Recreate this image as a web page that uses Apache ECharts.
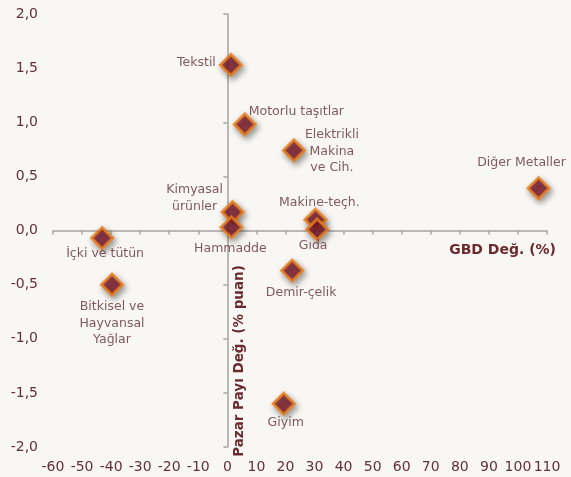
<!DOCTYPE html>
<html>
<head>
<meta charset="utf-8">
<script src="https://cdn.jsdelivr.net/npm/echarts@6/dist/echarts.min.js"></script>
<style>
  html, body { margin: 0; padding: 0; background: #f8f7f3; }
  #chart { width: 571px; height: 477px; }
</style>
</head>
<body>
<div id="chart"></div>
<script>
// Sectors: change in export value (%) vs change in market share (% points)
const sectors = [
  'Tekstil', 'Motorlu taşıtlar', 'Elektrikli\nMakina\nve Cih.', 'Diğer Metaller',
  'Kimyasal\nürünler', 'Hammadde', 'Makine-teçh.', 'Gıda',
  'İçki ve tütün', 'Bitkisel ve\nHayvansal\nYağlar', 'Demir-çelik', 'Giyim'
];
const valueChange = [1.2, 6.0, 22.9, 107.1, 1.8, 1.4, 30.3, 30.9, -43.1, -39.7, 22.3, 19.4];
const shareChange = [1.53, 0.98, 0.74, 0.39, 0.17, 0.03, 0.10, 0.01, -0.07, -0.50, -0.37, -1.60];

const xTicks = { min: -60, max: 110, step: 10 };
const yTicks = { min: -2, max: 2, step: 0.5 };

// Where each sector's label sits relative to its marker
const labelPlacement = {
  'Tekstil': { offset: [-15, -2], align: 'right' },
  'Motorlu taşıtlar': { offset: [4, -13], align: 'left' },
  'Elektrikli\nMakina\nve Cih.': { offset: [38, 1], align: 'center' },
  'Diğer Metaller': { offset: [-17, -26], align: 'center' },
  'Kimyasal\nürünler': { offset: [-38, -14], align: 'center' },
  'Hammadde': { offset: [-1, 21], align: 'center' },
  'Makine-teçh.': { offset: [4, -17], align: 'center' },
  'Gıda': { offset: [-4, 16], align: 'center' },
  'İçki ve tütün': { offset: [3, 16], align: 'center' },
  'Bitkisel ve\nHayvansal\nYağlar': { offset: [0, 39], align: 'center' },
  'Demir-çelik': { offset: [9, 22], align: 'center' },
  'Giyim': { offset: [2, 19], align: 'center' }
};

const FONT = 'DejaVu Sans';
const TEXT = '#633036';
const AXIS = '#a5a5a5';

const points = sectors.map((name, i) => {
  const p = labelPlacement[name];
  return {
    name,
    value: [valueChange[i], shareChange[i]],
    label: {
      show: true,
      position: 'inside',
      offset: p.offset,
      align: p.align,
      verticalAlign: 'middle',
      formatter: '{b}'
    }
  };
});

const chart = echarts.init(document.getElementById('chart'), null, { renderer: 'canvas' });

chart.setOption({
  backgroundColor: '#f8f7f3',
  animation: false,
  grid: { left: 53, right: 24, top: 14, bottom: 30, outerBoundsMode: 'none' },
  xAxis: [
    {
      type: 'value', min: xTicks.min, max: xTicks.max, interval: xTicks.step,
      position: 'bottom',
      axisLine: { show: false, onZero: false },
      axisTick: { show: false },
      splitLine: { show: false },
      axisLabel: { color: TEXT, fontFamily: FONT, fontSize: 14, margin: 13 }
    },
    {
      type: 'value', min: xTicks.min, max: xTicks.max, interval: xTicks.step,
      position: 'top',
      axisLine: { show: true, onZero: true, onZeroAxisIndex: 1, lineStyle: { color: AXIS, width: 1.5 } },
      axisTick: { show: true, inside: true, length: 4, lineStyle: { color: AXIS, width: 1.5 } },
      axisLabel: { show: false },
      splitLine: { show: false }
    }
  ],
  yAxis: [
    {
      type: 'value', min: yTicks.min, max: yTicks.max, interval: yTicks.step,
      position: 'left',
      axisLine: { show: false, onZero: false },
      axisTick: { show: false },
      splitLine: { show: false },
      axisLabel: {
        color: TEXT, fontFamily: FONT, fontSize: 14, margin: 15,
        formatter: v => v.toFixed(1).replace('.', ',')
      }
    },
    {
      type: 'value', min: yTicks.min, max: yTicks.max, interval: yTicks.step,
      position: 'right',
      axisLine: { show: true, onZero: true, onZeroAxisIndex: 1, lineStyle: { color: AXIS, width: 1.5 } },
      axisTick: { show: true, inside: true, length: 4, lineStyle: { color: AXIS, width: 1.5 } },
      axisLabel: { show: false },
      splitLine: { show: false }
    }
  ],
  series: [{
    type: 'scatter',
    xAxisIndex: 0,
    yAxisIndex: 0,
    symbol: 'diamond',
    symbolSize: 21,
    itemStyle: {
      color: '#871a2c',
      borderColor: '#ec7f1c',
      borderWidth: 3,
      shadowBlur: 6,
      shadowColor: 'rgba(0,0,0,0.45)',
      shadowOffsetX: 2,
      shadowOffsetY: 3
    },
    label: {
      color: TEXT,
      fontFamily: FONT,
      fontSize: 12.5,
      lineHeight: 16.5,
      textBorderWidth: 0
    },
    data: points
  }],
  graphic: [
    {
      type: 'text',
      x: 556, y: 250,
      style: {
        text: 'GBD Değ. (%)',
        fill: '#6b2a30',
        font: 'bold 14px "DejaVu Sans"',
        align: 'right',
        verticalAlign: 'middle'
      }
    },
    {
      type: 'text',
      x: 239, y: 361,
      rotation: Math.PI / 2,
      style: {
        text: 'Pazar Payı Değ. (% puan)',
        fill: '#6b2a30',
        font: 'bold 13.5px "DejaVu Sans"',
        align: 'center',
        verticalAlign: 'middle'
      }
    }
  ]
});
</script>
</body>
</html>
